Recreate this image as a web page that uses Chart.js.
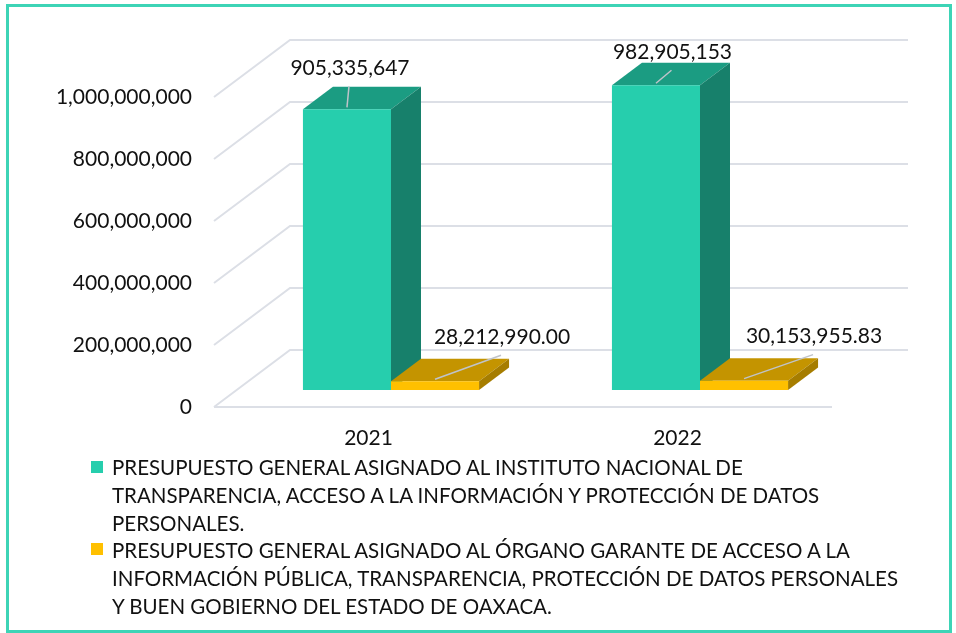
<!DOCTYPE html>
<html>
<head>
<meta charset="utf-8">
<script src="https://cdn.jsdelivr.net/npm/chart.js@4.4.1/dist/chart.umd.min.js"></script>
<style>
  html, body { margin: 0; padding: 0; background: #ffffff; }
  #wrap { position: relative; width: 956px; height: 633px; overflow: hidden; }
  #frame { position: absolute; left: 6px; top: 4px; width: 946px; height: 629px; box-sizing: border-box; border: 3px solid #3DD4B6; pointer-events: none; }
  canvas { position: absolute; left: 0; top: 0; }
  #legend { position: absolute; left: 0; top: 0; font-family: Lato, "Open Sans", sans-serif; font-size: 20.5px; color: #111; }
  .sw { position: absolute; width: 12px; height: 12px; }
  .ln { position: absolute; white-space: nowrap; line-height: 28px; }
</style>
</head>
<body>
<div id="wrap">
  <canvas id="c" width="956" height="633"></canvas>
  <div id="legend"></div>
  <div id="frame"></div>
</div>
<script>
// ---- data ----
const categories = ['2021', '2022'];
const seriesNames = [
  'PRESUPUESTO GENERAL ASIGNADO AL INSTITUTO NACIONAL DE TRANSPARENCIA, ACCESO A LA INFORMACIÓN Y PROTECCIÓN DE DATOS PERSONALES.',
  'PRESUPUESTO GENERAL ASIGNADO AL ÓRGANO GARANTE DE ACCESO A LA INFORMACIÓN PÚBLICA, TRANSPARENCIA, PROTECCIÓN DE DATOS PERSONALES Y BUEN GOBIERNO DEL ESTADO DE OAXACA.'
];
const legendLines = [
  ['PRESUPUESTO GENERAL ASIGNADO AL INSTITUTO NACIONAL DE',
   'TRANSPARENCIA, ACCESO A LA INFORMACIÓN Y PROTECCIÓN DE DATOS',
   'PERSONALES.'],
  ['PRESUPUESTO GENERAL ASIGNADO AL ÓRGANO GARANTE DE ACCESO A LA',
   'INFORMACIÓN PÚBLICA, TRANSPARENCIA, PROTECCIÓN DE DATOS PERSONALES',
   'Y BUEN GOBIERNO DEL ESTADO DE OAXACA.']
];
const seriesINAI = [905335647, 982905153];
const seriesOGAIP = [28212990.00, 30153955.83];
const valueDecimals = [0, 2];
const yMin = 0, yMax = 1000000000, yStep = 200000000;

// ---- styles ----
const FONT = 'Lato, "Open Sans", sans-serif';
const faceColors = [
  { front: '#26CEAD', top: '#1B9C82', side: '#17806B' },
  { front: '#FFC000', top: '#C49400', side: '#A67D00' }
];
const WALL = { dx: 76, dy: 57 };
const BAR = { shiftX: 22.5, shiftY: 17, dx: 30, dy: 22.5 };
const labelOffsets = [ [[3, -41], [16.5, -33]], [[67, -44], [70, -44]] ];

function fmt(v, d) {
  return v.toLocaleString('en-US', { minimumFractionDigits: d, maximumFractionDigits: d });
}

const threeD = {
  id: 'threeD',
  beforeDatasetsDraw(chart) {
    const ctx = chart.ctx, ys = chart.scales.y, area = chart.chartArea;
    // back wall, side wall and floor gridlines
    ctx.save();
    ctx.strokeStyle = '#DCDFE6';
    ctx.lineWidth = 2;
    ys.ticks.forEach(t => {
      const p = ys.getPixelForValue(t.value);
      ctx.beginPath();
      ctx.moveTo(area.left, p);
      ctx.lineTo(area.left + WALL.dx, p - WALL.dy);
      ctx.lineTo(area.right + WALL.dx, p - WALL.dy);
      ctx.stroke();
      if (t.value === 0) {
        ctx.beginPath();
        ctx.moveTo(area.left, p);
        ctx.lineTo(area.right, p);
        ctx.stroke();
      }
    });
    ctx.restore();
    // top and side faces of the bars (front faces drawn by Chart.js afterwards)
    ctx.save();
    ctx.translate(BAR.shiftX, -BAR.shiftY);
    chart.data.datasets.forEach((ds, di) => {
      const c = faceColors[di];
      chart.getDatasetMeta(di).data.forEach(el => {
        const { x, y, base, width } = el.getProps(['x', 'y', 'base', 'width'], true);
        const l = x - width / 2, r = x + width / 2;
        ctx.fillStyle = c.top;
        ctx.beginPath();
        ctx.moveTo(l, y); ctx.lineTo(r, y); ctx.lineTo(r + BAR.dx, y - BAR.dy); ctx.lineTo(l + BAR.dx, y - BAR.dy);
        ctx.closePath(); ctx.fill();
        ctx.fillStyle = c.side;
        ctx.beginPath();
        ctx.moveTo(r, y); ctx.lineTo(r + BAR.dx, y - BAR.dy); ctx.lineTo(r + BAR.dx, base - BAR.dy); ctx.lineTo(r, base);
        ctx.closePath(); ctx.fill();
      });
    });
    ctx.restore();
  },
  beforeDatasetDraw(chart) {
    chart.ctx.save();
    chart.ctx.translate(BAR.shiftX, -BAR.shiftY);
  },
  afterDatasetDraw(chart) {
    chart.ctx.restore();
  },
  afterDatasetsDraw(chart) {
    const ctx = chart.ctx;
    ctx.save();
    ctx.font = '21px ' + FONT;
    ctx.textAlign = 'center';
    ctx.textBaseline = 'middle';
    chart.data.datasets.forEach((ds, di) => {
      const meta = chart.getDatasetMeta(di);
      meta.data.forEach((el, i) => {
        const { x, y } = el.getProps(['x', 'y'], true);
        const cx = x + BAR.shiftX, cy = y - BAR.shiftY;
        const lx = cx + labelOffsets[di][i][0], ly = cy + labelOffsets[di][i][1];
        ctx.strokeStyle = '#BFC3CA';
        ctx.lineWidth = 1.5;
        ctx.beginPath();
        ctx.moveTo(cx, cy - 2);
        ctx.lineTo(lx - 1, ly + 18);
        ctx.stroke();
        ctx.fillStyle = '#111';
        ctx.fillText(fmt(ds.data[i], valueDecimals[di]), lx, ly);
      });
    });
    ctx.restore();
  }
};

new Chart(document.getElementById('c'), {
  type: 'bar',
  data: {
    labels: categories,
    datasets: [
      { label: seriesNames[0], data: seriesINAI, backgroundColor: faceColors[0].front, clip: false,
        categoryPercentage: 0.57, barPercentage: 1.0 },
      { label: seriesNames[1], data: seriesOGAIP, backgroundColor: faceColors[1].front, clip: false,
        categoryPercentage: 0.57, barPercentage: 1.0 }
    ]
  },
  options: {
    responsive: false,
    animation: false,
    devicePixelRatio: 1,
    layout: { padding: { left: 0, right: 124, top: 97, bottom: 181 } },
    plugins: { legend: { display: false }, tooltip: { enabled: false } },
    scales: {
      x: {
        grid: { display: false, drawTicks: false },
        border: { display: false },
        ticks: { color: '#111', font: { family: FONT, size: 21 }, padding: 19 },
        afterFit(s) { s.height = 45; }
      },
      y: {
        min: yMin, max: yMax,
        grid: { display: false, drawTicks: false },
        border: { display: false },
        ticks: { stepSize: yStep, color: '#111', font: { family: FONT, size: 21 }, padding: 22,
                 callback: v => fmt(v, 0) },
        afterFit(s) { s.width = 214; }
      }
    }
  },
  plugins: [threeD]
});

// ---- legend (HTML) ----
const lg = document.getElementById('legend');
const itemTops = [453, 536];
const swTops = [461, 543];
legendLines.forEach((lines, k) => {
  const sw = document.createElement('div');
  sw.className = 'sw';
  sw.style.left = '91px';
  sw.style.top = swTops[k] + 'px';
  sw.style.background = faceColors[k].front;
  lg.appendChild(sw);
  lines.forEach((t, j) => {
    const d = document.createElement('div');
    d.className = 'ln';
    d.style.left = '112px';
    d.style.top = (itemTops[k] + j * 28) + 'px';
    d.textContent = t;
    lg.appendChild(d);
  });
});
</script>
</body>
</html>
